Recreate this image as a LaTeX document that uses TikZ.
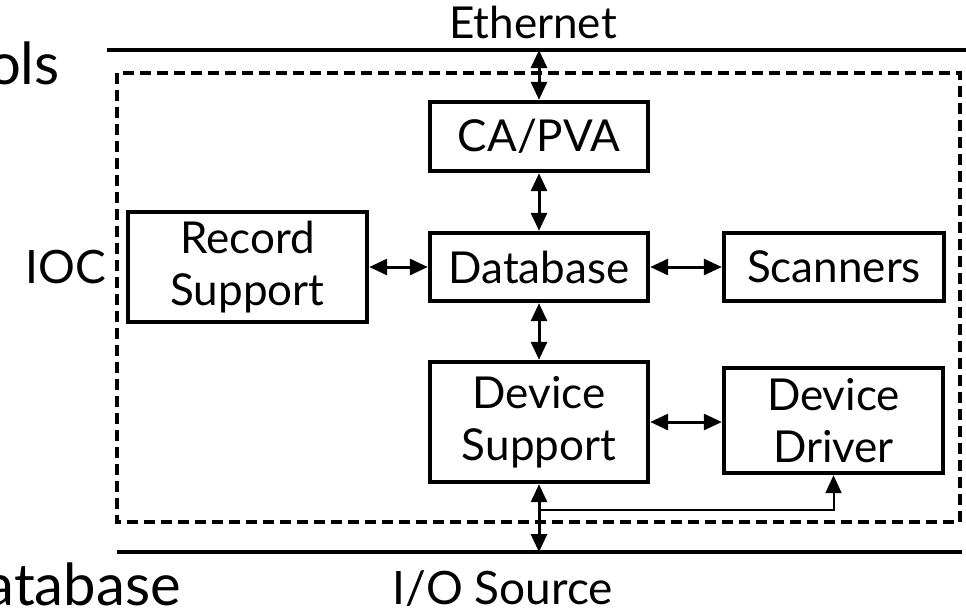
\documentclass[tikz,border=0pt]{standalone}
\usepackage{fontspec}
\setmainfont{Lato}
\usetikzlibrary{arrows.meta}
\begin{document}
\begin{tikzpicture}[x=1pt,y=-1pt,
  tip/.tip={Triangle[length=18pt,width=16pt]},
  txt/.style={inner sep=0pt, font=\fontsize{44}{52}\selectfont, align=center},
  lbl/.style={inner sep=0pt, font=\fontsize{46}{52}\selectfont},
  box/.style={txt, draw, line width=4.4pt},
  bus/.style={line width=4.4pt},
  ioc/.style={line width=4.6pt, dash pattern=on 11pt off 6pt},
  link/.style={line width=3pt, tip-tip},
  feed/.style={line width=2pt, -tip},
  big/.style={inner sep=0pt, font=\fontsize{58}{60}\selectfont}]
  \useasboundingbox (0,0) rectangle (966,614);
  \clip (0,0) rectangle (966,614);

  % text cut by the frame edge
  \node[big, anchor=base east] (tools) at (60,84) {ols};
  \node[big, anchor=base east] (db-title) at (181,605) {atabase};

  % network bus and I/O bus
  \draw[bus] (107,50) -- (966,50);
  \draw[bus] (117,552) -- (962,552);
  \coordinate (eth) at (539,50);
  \coordinate (io) at (539,552);
  \node[txt, anchor=base] (eth-label) at (533,38) {Ethernet};
  \node[lbl, anchor=base] (io-label) at (503,604) {I/O Source};

  % IOC boundary
  \draw[ioc] (117,73) rectangle (960,522);
  \node[lbl, anchor=base] (ioc-label) at (66,283) {IOC};

  % components
  \node[box, minimum width=218pt, minimum height=69pt] (ca) at (539,136.5) {CA/PVA};
  \node[box, minimum width=218pt, minimum height=68pt] (db) at (539,267) {Database};
  \node[box, minimum width=220pt, minimum height=68pt] (scan) at (834,267) {Scanners};
  \node[box, minimum width=239pt, minimum height=110pt] (rec) at (247.5,267) {Record\\Support};
  \node[box, minimum width=218pt, minimum height=120pt] (ds) at (539,422) {Device\\Support};
  \node[box, minimum width=219pt, minimum height=105pt] (dd) at (833.5,420.5) {Device\\Driver};

  % connections
  \draw[link] (eth) -- (ca.north);
  \draw[link] (ca.south) -- (db.north);
  \draw[link] (rec.east) -- (db.west);
  \draw[link] (db.east) -- (scan.west);
  \draw[link] (db.south) -- (ds.north);
  \draw[link] (ds.east) -- (dd.west |- ds.east);
  \draw[link] (ds.south) -- (io);
  \coordinate (branch) at (539,510);
  \draw[feed] (branch) -| (dd.south);
\end{tikzpicture}
\end{document}
